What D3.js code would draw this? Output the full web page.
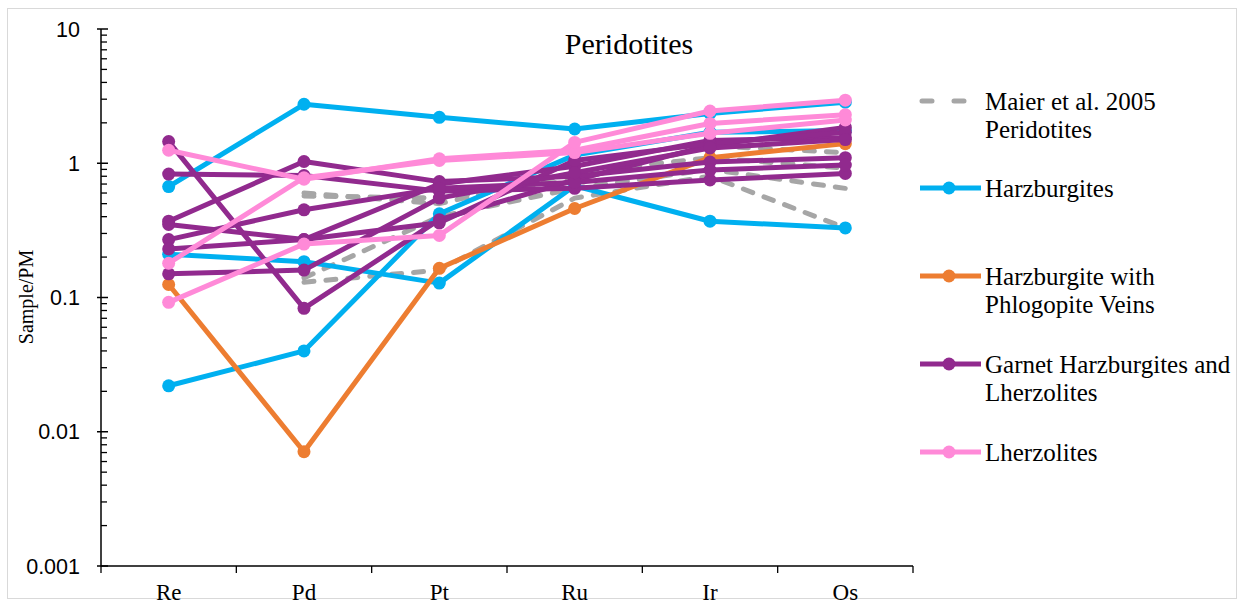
<!DOCTYPE html>
<html><head><meta charset="utf-8">
<script src="https://cdn.jsdelivr.net/npm/d3@7"></script>
<style>body{margin:0;background:#fff}svg{display:block}</style>
</head><body>
<svg id="c" width="1244" height="606"></svg>
<script>
const elements = ["Re", "Pd", "Pt", "Ru", "Ir", "Os"];
const yTicks = [0.001, 0.01, 0.1, 1, 10];
const yTickLabels = ["0.001", "0.01", "0.1", "1", "10"];

// Maier et al. 2005 peridotites (no Re values)
const maier = [
  [null, 0.57, 0.55, 0.75, 1.35, 1.2],
  [null, 0.13, 0.16, 0.55, 0.8, 0.33],
  [null, 0.14, 0.4, 0.65, 0.9, 0.65],
  [null, 0.6, 0.5, 0.85, 1.1, 0.92]
];
const harzburgites = [
  [0.67, 2.75, 2.2, 1.8, 2.35, 2.85],
  [0.21, 0.185, 0.128, 0.68, 0.37, 0.33],
  [0.022, 0.040, 0.42, 1.15, 1.7, 1.75]
];
const phlogopite = [
  [0.125, 0.0071, 0.165, 0.46, 1.1, 1.4]
];
const garnet = [
  [1.45, 0.083, 0.38, 0.75, 1.36, 1.85],
  [0.83, 0.81, 0.62, 0.65, 0.75, 0.84],
  [0.37, 1.03, 0.73, 0.8, 1.02, 1.1],
  [0.35, 0.27, 0.70, 0.95, 1.48, 1.55],
  [0.27, 0.45, 0.65, 0.72, 0.89, 0.97],
  [0.23, 0.27, 0.36, 1.05, 1.4, 1.7],
  [0.15, 0.16, 0.55, 0.85, 1.3, 1.5]
];
const lherzolites = [
  [1.25, 0.76, 1.08, 1.25, 1.98, 2.3],
  [0.18, 0.78, 1.05, 1.2, 1.67, 2.1],
  [0.092, 0.25, 0.29, 1.43, 2.45, 2.95]
];

const groups = [
  {name: ["Maier et al. 2005", "Peridotites"], data: maier, color: "#A6A6A6", dashed: true},
  {name: ["Harzburgites"], data: harzburgites, color: "#00B0F0"},
  {name: ["Harzburgite with", "Phlogopite Veins"], data: phlogopite, color: "#ED7D31"},
  {name: ["Garnet Harzburgites and", "Lherzolites"], data: garnet, color: "#912A8E"},
  {name: ["Lherzolites"], data: lherzolites, color: "#FF8AD8"}
];

const svg = d3.select("#c");
const pL = 101, pR = 913, pT = 29, pB = 566;

svg.append("rect").attr("x", 7.5).attr("y", 8.5).attr("width", 1229).attr("height", 590)
  .attr("fill", "none").attr("stroke", "#d9d9d9").attr("stroke-width", 1);

const x = d3.scaleBand().domain(elements).range([pL, pR]);
const y = d3.scaleLog().domain([0.001, 10]).range([pB, pT]);

// y axis
const ya = svg.append("g");
ya.append("line").attr("x1", pL).attr("x2", pL).attr("y1", pT).attr("y2", pB)
  .attr("stroke", "#000").attr("stroke-width", 1.5);
const minor = [];
for (let e = -3; e < 1; e++) for (let m = 2; m <= 9; m++) minor.push(m * Math.pow(10, e));
ya.selectAll(".mn").data(minor).enter().append("line")
  .attr("x1", pL).attr("x2", pL + 6)
  .attr("y1", d => y(d)).attr("y2", d => y(d)).attr("stroke", "#000").attr("stroke-width", 1.3);
ya.selectAll(".mj").data(yTicks).enter().append("line")
  .attr("x1", pL - 4).attr("x2", pL + 7)
  .attr("y1", d => y(d)).attr("y2", d => y(d)).attr("stroke", "#000").attr("stroke-width", 1.5);
ya.selectAll(".lb").data(yTicks).enter().append("text")
  .attr("x", 80).attr("y", d => y(d)).attr("dy", "0.36em").attr("text-anchor", "end")
  .attr("font-family", "Liberation Sans, Arial, sans-serif").attr("font-size", 21.5)
  .text((d, i) => yTickLabels[i]);

// x axis
const xa = svg.append("g");
xa.append("line").attr("x1", pL).attr("x2", pR).attr("y1", pB).attr("y2", pB)
  .attr("stroke", "#000").attr("stroke-width", 1.5);
const bounds = elements.map(e => x(e)).concat([pR]);
xa.selectAll(".xt").data(bounds).enter().append("line")
  .attr("x1", d => d).attr("x2", d => d).attr("y1", pB).attr("y2", pB + 7)
  .attr("stroke", "#000").attr("stroke-width", 1.3);
xa.selectAll(".xl").data(elements).enter().append("text")
  .attr("x", d => x(d) + x.bandwidth() / 2).attr("y", 600)
  .attr("text-anchor", "middle")
  .attr("font-family", "Liberation Serif, Times New Roman, serif").attr("font-size", 23)
  .text(d => d);

// axis title
svg.append("text").attr("transform", "translate(33,297) rotate(-90)")
  .attr("text-anchor", "middle")
  .attr("font-family", "Liberation Serif, Times New Roman, serif").attr("font-size", 20)
  .text("Sample/PM");

// title
svg.append("text").attr("x", 629).attr("y", 54).attr("text-anchor", "middle")
  .attr("font-family", "Liberation Serif, Times New Roman, serif").attr("font-size", 30)
  .text("Peridotites");

const cx = d => x(d) + x.bandwidth() / 2;
const line = d3.line().defined(d => d.v != null).x(d => cx(d.k)).y(d => y(d.v));

groups.forEach(g => {
  const gg = svg.append("g");
  g.data.forEach(row => {
    const pts = row.map((v, i) => ({k: elements[i], v}));
    gg.append("path").attr("d", line(pts)).attr("fill", "none")
      .attr("stroke", g.color).attr("stroke-width", 5)
      .attr("stroke-linejoin", "round").attr("stroke-linecap", g.dashed ? "round" : "butt")
      .attr("stroke-dasharray", g.dashed ? "10,12" : null);
    if (!g.dashed) {
      gg.selectAll(null).data(pts.filter(p => p.v != null)).enter().append("circle")
        .attr("cx", p => cx(p.k)).attr("cy", p => y(p.v)).attr("r", 6.5)
        .attr("fill", g.color);
    }
  });
});

// legend
const legY = [[101, 129], [188], [276, 304], [364, 392], [452]];
const lg = svg.append("g");
groups.forEach((g, i) => {
  const ly = legY[i][0];
  if (g.dashed) {
    lg.append("line").attr("x1", 922).attr("x2", 973).attr("y1", ly).attr("y2", ly)
      .attr("stroke", g.color).attr("stroke-width", 5).attr("stroke-linecap", "round")
      .attr("stroke-dasharray", "10,22");
  } else {
    lg.append("line").attr("x1", 920).attr("x2", 981).attr("y1", ly).attr("y2", ly)
      .attr("stroke", g.color).attr("stroke-width", 5);
    lg.append("circle").attr("cx", 949).attr("cy", ly).attr("r", 6.5).attr("fill", g.color);
  }
  g.name.forEach((t, j) => {
    lg.append("text").attr("x", 985).attr("y", legY[i][j]).attr("dy", "0.35em")
      .attr("font-family", "Liberation Serif, Times New Roman, serif").attr("font-size", 25)
      .attr("fill", "#000").text(t);
  });
});
</script>
</body></html>
